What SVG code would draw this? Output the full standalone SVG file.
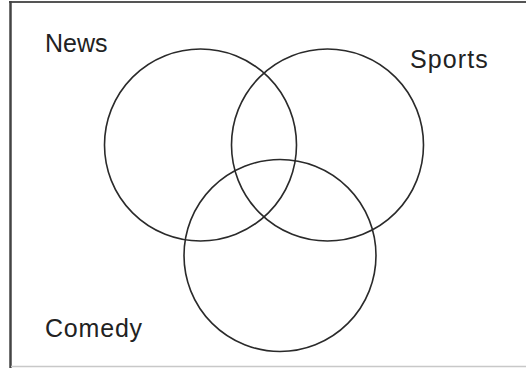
<svg xmlns="http://www.w3.org/2000/svg" width="526" height="368" viewBox="0 0 526 368">
<style>
.c{fill:none;stroke:#2a2a2a;stroke-width:1.6}
.t{font-family:"Liberation Sans",Arial,sans-serif;font-size:25px;fill:#222}
</style>
<rect width="526" height="368" fill="#fff"/>
<g id="frame">
<line x1="9" y1="2" x2="526" y2="2" stroke="#555" stroke-width="2.2"/>
<line x1="10.5" y1="1" x2="10.5" y2="368" stroke="#444" stroke-width="2.5"/>
<line x1="11" y1="366.5" x2="526" y2="366.5" stroke="#c8c8c8" stroke-width="1.5"/>
</g>
<g id="news">
<circle class="c" cx="200.5" cy="145" r="96"/>
<text class="t" x="45" y="52" letter-spacing="0">News</text>
</g>
<g id="sports">
<circle class="c" cx="327.5" cy="145" r="96"/>
<text class="t" x="410" y="67.5" letter-spacing="1.1">Sports</text>
</g>
<g id="comedy">
<circle class="c" cx="280" cy="255.5" r="96"/>
<text class="t" x="45" y="336.5" letter-spacing="0.8">Comedy</text>
</g>
</svg>
